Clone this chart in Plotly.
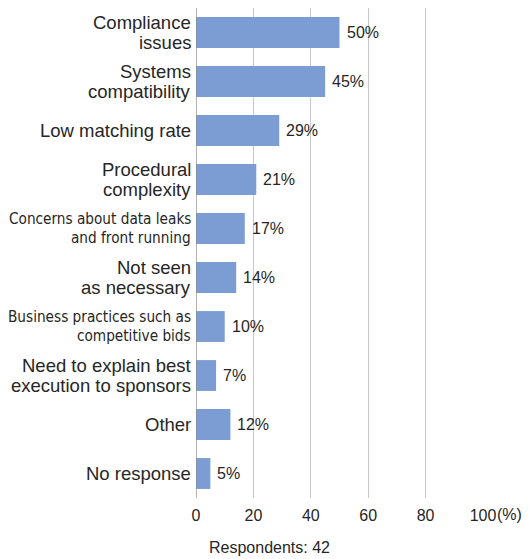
import plotly.graph_objects as go

categories = [
    "Compliance<br>issues",
    "Systems<br>compatibility",
    "Low matching rate",
    "Procedural<br>complexity",
    "Concerns about data leaks<br>and front running",
    "Not seen<br>as necessary",
    "Business practices such as<br>competitive bids",
    "Need to explain best<br>execution to sponsors",
    "Other",
    "No response",
]
values = [50, 45, 29, 21, 17, 14, 10, 7, 12, 5]
narrow = [False, False, False, False, True, False, True, False, False, False]
tick_vals = [0, 20, 40, 60, 80, 100]
tick_text = ["0", "20", "40", "60", "80", "100"]
unit_label = "(%)"

ids = list(range(len(categories)))
plot_h = 498.5 - 7.5

fig = go.Figure()
fig.add_trace(go.Bar(
    x=values, y=ids, orientation="h",
    marker=dict(color="#7b9dd3", line=dict(width=0)),
    width=0.63, hoverinfo="skip",
))

for i, (c, v, n) in enumerate(zip(categories, values, narrow)):
    lines = c.split("<br>")
    k = len(lines)
    gap = 19 if n else 20
    for j, ln in enumerate(lines):
        fig.add_annotation(
            x=0, y=i, xref="paper", yref="y", text=ln, showarrow=False,
            xanchor="right", yanchor="middle", align="right", xshift=-3,
            yshift=((k - 1) / 2 - j) * gap,
            font=dict(family="DejaVu Sans Condensed, Liberation Sans Narrow, sans-serif" if n else "Liberation Sans, Arial, sans-serif",
                      size=15.2 if n else 18.5, color="#262626"),
        )
    fig.add_annotation(
        x=v, y=i, xref="x", yref="y", text=f"{v}%", showarrow=False,
        xanchor="left", yanchor="middle", xshift=5,
        font=dict(family="Liberation Sans, Arial, sans-serif", size=16, color="#262626"),
    )

fig.add_annotation(
    x=100, y=-(515 - 498.5) / plot_h, xref="x", yref="paper", text=unit_label,
    showarrow=False, xanchor="left", yanchor="middle", xshift=12,
    font=dict(family="Liberation Sans, Arial, sans-serif", size=16, color="#262626"),
)

fig.add_annotation(
    x=(207 - 196) / (483 - 196), y=-(548 - 498.5) / plot_h,
    xref="paper", yref="paper", text="Respondents: 42", showarrow=False,
    xanchor="left", yanchor="middle",
    font=dict(family="Liberation Sans, Arial, sans-serif", size=16, color="#262626"),
)

fig.update_layout(
    width=529, height=559,
    margin=dict(l=196, r=46, t=7.5, b=60.5),
    paper_bgcolor="white", plot_bgcolor="white",
    showlegend=False,
    xaxis=dict(range=[0, 100], tickvals=tick_vals, ticktext=tick_text,
               showgrid=True, gridcolor="#c9c9c9", gridwidth=1.3,
               zeroline=False, showline=False, ticks="",
               tickfont=dict(family="Liberation Sans, Arial, sans-serif", size=16, color="#262626"),
               ticklabelstandoff=6),
    yaxis=dict(range=[len(categories) - 0.5, -0.5], showticklabels=False,
               showgrid=False, zeroline=False, showline=False, ticks=""),
    shapes=[dict(type="line", xref="x", yref="paper", x0=0, x1=0, y0=0, y1=1,
                 line=dict(color="#8a8a8a", width=1.3), layer="above")],
)

fig.write_html("out.html")
